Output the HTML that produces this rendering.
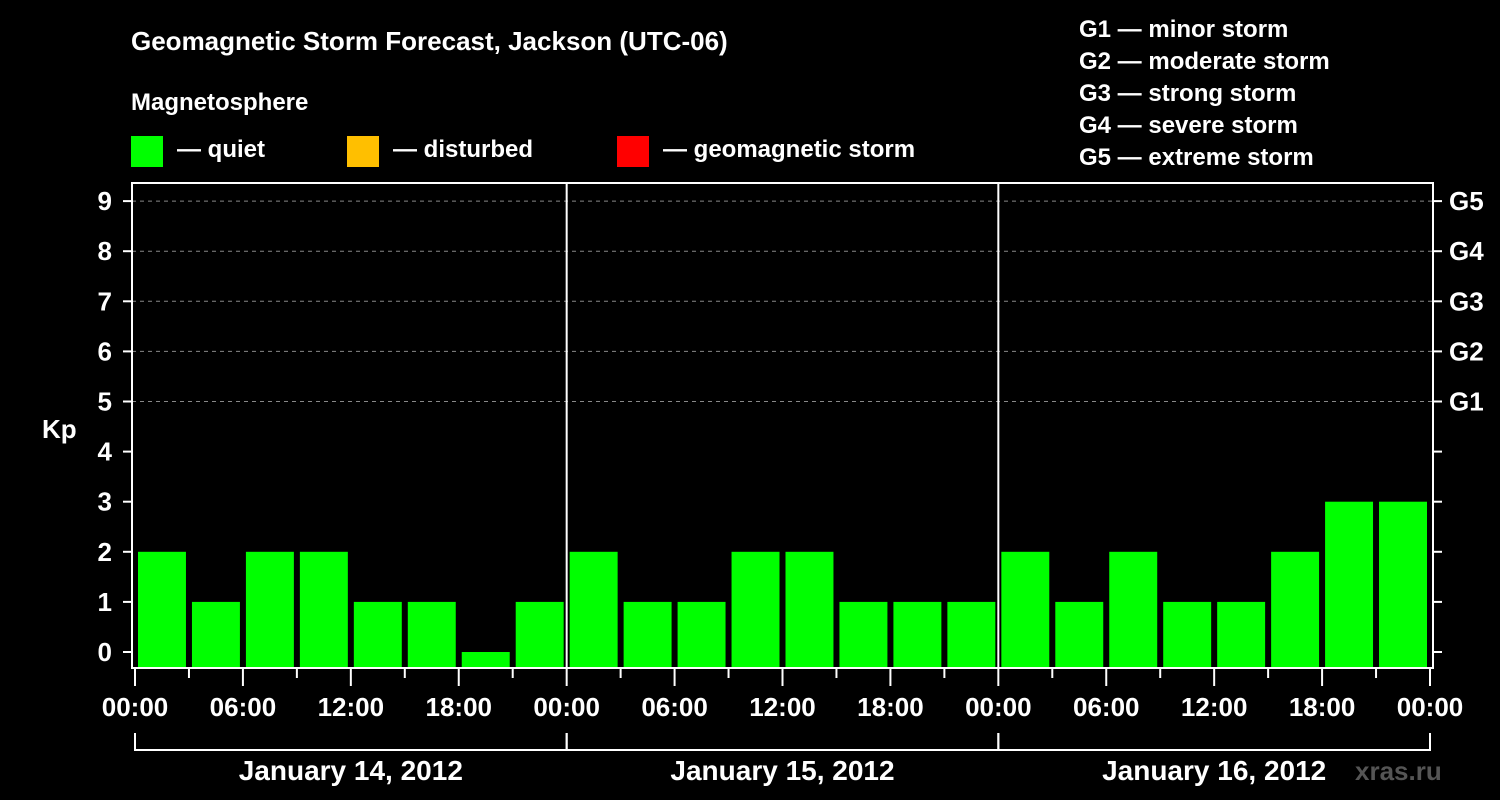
<!DOCTYPE html>
<html><head><meta charset="utf-8"><style>
body{margin:0;background:#000;width:1500px;height:800px;overflow:hidden}
svg{display:block;font-family:"Liberation Sans",sans-serif;font-weight:bold}
</style></head><body>
<svg id="c" width="1500" height="800">
<text x="131" y="50" fill="#fff" font-size="26">Geomagnetic Storm Forecast, Jackson (UTC-06)</text>
<text x="131" y="110" fill="#fff" font-size="24">Magnetosphere</text>
<rect x="131" y="136" width="32" height="31" fill="#00ff00"/>
<text x="177" y="157" fill="#fff" font-size="24">— quiet</text>
<rect x="347" y="136" width="32" height="31" fill="#ffbf00"/>
<text x="393" y="157" fill="#fff" font-size="24">— disturbed</text>
<rect x="617" y="136" width="32" height="31" fill="#ff0000"/>
<text x="663" y="157" fill="#fff" font-size="24">— geomagnetic storm</text>
<g fill="#fff" font-size="24">
<text x="1079" y="37">G1 — minor storm</text>
<text x="1079" y="69">G2 — moderate storm</text>
<text x="1079" y="101">G3 — strong storm</text>
<text x="1079" y="133">G4 — severe storm</text>
<text x="1079" y="165">G5 — extreme storm</text>
</g>
<text x="42" y="438" fill="#fff" font-size="26">Kp</text>
<text x="1355" y="780" fill="#555" font-size="26">xras.ru</text>
<g id="g"></g>
</svg>
<script>
const days = ["January 14, 2012","January 15, 2012","January 16, 2012"];
const hourLabels = ["00:00","06:00","12:00","18:00"];
const kpValues = [2,1,2,2,1,1,0,1, 2,1,1,2,2,1,1,1, 2,1,2,1,1,2,3,3];
const kpTicks = [0,1,2,3,4,5,6,7,8,9];
const gLabels = ["G1","G2","G3","G4","G5"];
const gLevels = [5,6,7,8,9];

const X0=135, X1=1430, L=132, R=1433, T=183, B=668;
const slot=(X1-X0)/kpValues.length;
const x=i=>X0+i*slot;
const y=v=>652-v*50.1;
const NS="http://www.w3.org/2000/svg";
const g=document.getElementById('g');
function mk(t,a,name){const e=document.createElementNS(NS,t);for(const k in a)e.setAttribute(k,a[k]);


g.appendChild(e);return e;}
// grid
gLevels.forEach((v,i)=>{
 mk('line',{x1:L,x2:R,y1:y(v),y2:y(v),stroke:'#888','stroke-dasharray':'4,4','stroke-width':1},'grid-line');
 const t=mk('text',{x:1449,y:y(v)+9,fill:'#fff','font-size':26},'g-label');t.textContent=gLabels[i];
});
// bars
kpValues.forEach((v,i)=>{
 const top=y(v);
 mk('rect',{x:x(i)+3,y:top,width:slot-6,height:Math.max(B-1-top,0),fill:'#00ff00'},'kp-bar');
});
// frame
mk('rect',{x:L,y:T,width:R-L,height:B-T,fill:'none',stroke:'#fff','stroke-width':2},'plot-frame');
// y ticks
kpTicks.forEach(v=>{
 mk('line',{x1:123,x2:L,y1:y(v),y2:y(v),stroke:'#fff','stroke-width':2},'y-tick');
 mk('line',{x1:R,x2:1442,y1:y(v),y2:y(v),stroke:'#fff','stroke-width':2},'y-tick-right');
 const t=mk('text',{x:112,y:y(v)+9,fill:'#fff','font-size':26,'text-anchor':'end'},'y-tick-label');t.textContent=v;
});
// x ticks
for(let i=0;i<=kpValues.length;i++){
 const major=i%2==0;
 mk('line',{x1:x(i),x2:x(i),y1:B,y2:major?686:678,stroke:'#fff','stroke-width':2},'x-tick');
 if(major){const t=mk('text',{x:x(i),y:716,fill:'#fff','font-size':26,'text-anchor':'middle'},'x-tick-label');
 t.textContent=hourLabels[(i/2)%4];}
}
// day separators & brackets
const per=kpValues.length/days.length;
days.forEach((d,k)=>{
 const a=x(k*per), b=x((k+1)*per);
 if(k>0) mk('line',{x1:a,x2:a,y1:T,y2:B,stroke:'#fff','stroke-width':2},'day-separator');
 mk('polyline',{points:`${a},733 ${a},750 ${b},750 ${b},733`,fill:'none',stroke:'#fff','stroke-width':2},'day-bracket');
 const t=mk('text',{x:(a+b)/2,y:780,fill:'#fff','font-size':28,'text-anchor':'middle'},'day-label');t.textContent=d;
});
</script>
</body></html>
